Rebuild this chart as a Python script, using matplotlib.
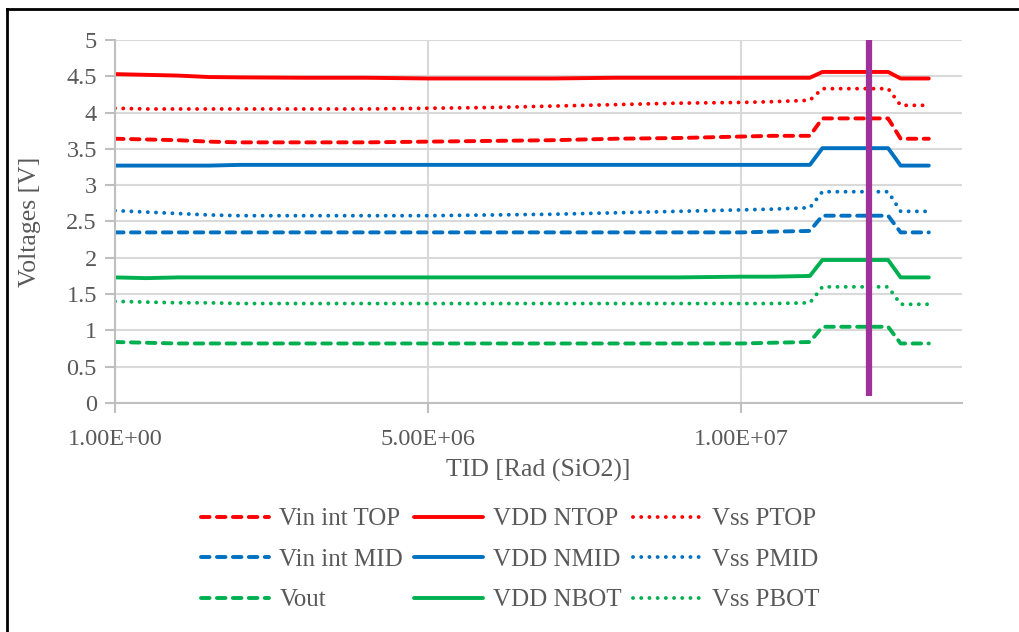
import matplotlib
matplotlib.use("Agg")
import matplotlib.pyplot as plt

# TID dose points [Rad (SiO2)]
tid = [1, 0.5e6, 1.0e6, 1.5e6, 2.0e6, 3.0e6, 4.0e6, 5.0e6, 6.0e6, 7.0e6, 8.0e6,
       9.0e6, 10.0e6, 10.5e6, 11.1e6, 11.3e6, 12.35e6, 12.55e6, 13.0e6]

# node voltages [V]
vin_int_top = [3.64, 3.63, 3.62, 3.60, 3.59, 3.59, 3.59, 3.60, 3.61, 3.62, 3.64,
               3.65, 3.67, 3.68, 3.68, 3.92, 3.92, 3.64, 3.64]
vdd_ntop = [4.53, 4.52, 4.51, 4.49, 4.485, 4.48, 4.48, 4.47, 4.47, 4.47, 4.48,
            4.48, 4.48, 4.48, 4.48, 4.56, 4.56, 4.47, 4.47]
vss_ptop = [4.06, 4.05, 4.05, 4.05, 4.05, 4.05, 4.05, 4.06, 4.07, 4.09, 4.11,
            4.13, 4.14, 4.15, 4.17, 4.33, 4.33, 4.10, 4.10]
vin_int_mid = [2.35, 2.35, 2.35, 2.35, 2.35, 2.35, 2.35, 2.35, 2.35, 2.35, 2.35,
               2.35, 2.35, 2.36, 2.37, 2.58, 2.58, 2.35, 2.35]
vdd_nmid = [3.27, 3.27, 3.27, 3.27, 3.28, 3.28, 3.28, 3.28, 3.28, 3.28, 3.28,
            3.28, 3.28, 3.28, 3.28, 3.51, 3.51, 3.27, 3.27]
vss_pmid = [2.65, 2.63, 2.61, 2.59, 2.58, 2.58, 2.58, 2.58, 2.59, 2.60, 2.62,
            2.64, 2.66, 2.67, 2.69, 2.91, 2.91, 2.64, 2.64]
vout = [0.84, 0.83, 0.82, 0.82, 0.82, 0.82, 0.82, 0.82, 0.82, 0.82, 0.82,
        0.82, 0.82, 0.83, 0.84, 1.05, 1.05, 0.82, 0.82]
vdd_nbot = [1.73, 1.72, 1.73, 1.73, 1.73, 1.73, 1.73, 1.73, 1.73, 1.73, 1.73,
            1.73, 1.74, 1.74, 1.75, 1.97, 1.97, 1.73, 1.73]
vss_pbot = [1.40, 1.39, 1.38, 1.38, 1.37, 1.37, 1.37, 1.37, 1.37, 1.37, 1.37,
            1.37, 1.37, 1.37, 1.38, 1.60, 1.60, 1.36, 1.36]

# marker for the dose of interest
mark_tid = 1.204e7
mark_v = [0.1, 5.0]

x_ticks = [1, 5e6, 1e7]
x_ticklabels = ["1.00E+00", "5.00E+06", "1.00E+07"]
y_ticks = [0, 0.5, 1, 1.5, 2, 2.5, 3, 3.5, 4, 4.5, 5]
y_ticklabels = ["0", "0.5", "1", "1.5", "2", "2.5", "3", "3.5", "4", "4.5", "5"]

RED = "#FF0000"
BLUE = "#0070C0"
GREEN = "#00B050"
TXT = "#595959"
GRID = "#D9D9D9"

plt.rcParams["font.family"] = ["Liberation Serif", "DejaVu Serif"]

fig = plt.figure(figsize=(10.2, 6.32), dpi=100)
ax = fig.add_axes([115 / 1020, 1 - 403 / 632, (962 - 115) / 1020, (403 - 40) / 632])

lw = 2.8
dashed = (0, (2.2, 1.9))
dotted = (0, (0.01, 2.1))

def draw(y, color, ls, label):
    line, = ax.plot(tid, y, color=color, lw=lw, linestyle=ls, label=label,
                    solid_capstyle="round", dash_capstyle="round",
                    solid_joinstyle="round")
    return line

# order so the 3-column legend reads row by row
h = []
h.append(draw(vin_int_top, RED, dashed, "Vin int TOP"))
h.append(draw(vin_int_mid, BLUE, dashed, "Vin int MID"))
h.append(draw(vout, GREEN, dashed, "Vout"))
h.append(draw(vdd_ntop, RED, "-", "VDD NTOP"))
h.append(draw(vdd_nmid, BLUE, "-", "VDD NMID"))
h.append(draw(vdd_nbot, GREEN, "-", "VDD NBOT"))
h.append(draw(vss_ptop, RED, dotted, "Vss PTOP"))
h.append(draw(vss_pmid, BLUE, dotted, "Vss PMID"))
h.append(draw(vss_pbot, GREEN, dotted, "Vss PBOT"))

ax.vlines(mark_tid, mark_v[0], mark_v[1], color="#A0309A", lw=4.5, zorder=5)

ax.set_xlim(1, 1.353e7)
ax.set_ylim(0, 5)
ax.set_xticks(x_ticks)
ax.set_xticklabels(x_ticklabels)
ax.set_yticks(y_ticks)
ax.set_yticklabels(y_ticklabels)
ax.grid(True, color=GRID, lw=1.5)
ax.set_axisbelow(True)
for s in ["top", "right"]:
    ax.spines[s].set_visible(False)
for s in ["left", "bottom"]:
    ax.spines[s].set_color("#BFBFBF")
    ax.spines[s].set_linewidth(1.5)
ax.tick_params(axis="both", colors="#BFBFBF", width=1.5, length=7,
               labelcolor=TXT, labelsize=17.5)
ax.tick_params(axis="y", pad=6)
ax.tick_params(axis="x", pad=12)

ax.set_xlabel("TID [Rad (SiO2)]", fontsize=18.5, color=TXT, labelpad=6)
ax.set_ylabel("Voltages [V]", fontsize=18.5, color=TXT, labelpad=18)

fig.legend(handles=h, ncol=3, loc="upper center", bbox_to_anchor=(0.5, 0.232),
           frameon=False, fontsize=18, labelcolor=TXT, handlelength=2.75,
           handletextpad=0.4, columnspacing=0.45, labelspacing=0.72)

# outer border (left and top edges)
fig.add_artist(plt.Line2D([7 / 1020, 7 / 1020], [0, 1 - 9 / 632], color="black", lw=2))
fig.add_artist(plt.Line2D([7 / 1020, 1], [1 - 9 / 632, 1 - 9 / 632], color="black", lw=2))

fig.savefig("out.png", dpi=100)
